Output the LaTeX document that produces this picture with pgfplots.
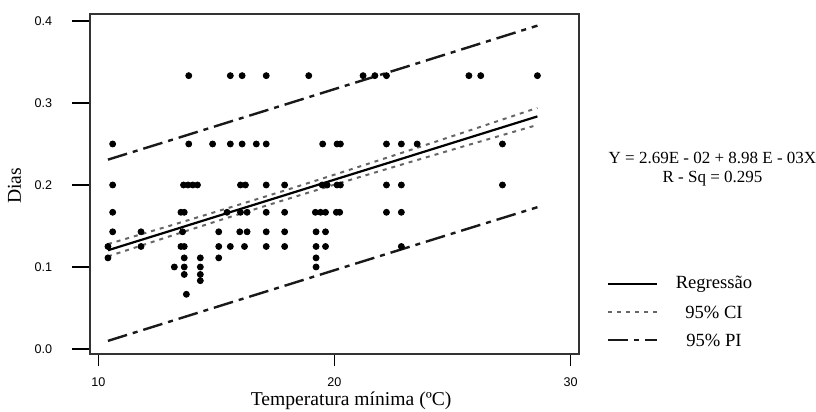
\documentclass[border=0pt]{standalone}
\usepackage{fontspec}
\setmainfont{Liberation Serif}
\newfontfamily\arialf{Liberation Sans}
\usepackage{pgfplots}
\usepackage{pgfplotstable}
\pgfplotsset{compat=1.18}

% observed points (temperatura minima, 1/dias)
\pgfplotstableread{
x y
13.83 0.3333
15.59 0.3333
16.09 0.3333
17.11 0.3333
18.91 0.3333
21.21 0.3333
21.71 0.3333
22.20 0.3333
25.69 0.3333
26.19 0.3333
28.59 0.3333
10.61 0.25
13.83 0.25
14.84 0.25
15.59 0.25
16.09 0.25
16.69 0.25
17.11 0.25
19.50 0.25
20.11 0.25
20.25 0.25
22.20 0.25
22.83 0.25
23.50 0.25
27.11 0.25
10.61 0.2
13.61 0.2
13.80 0.2
14.00 0.2
14.20 0.2
16.02 0.2
16.23 0.2
17.11 0.2
17.89 0.2
19.48 0.2
19.69 0.2
20.11 0.2
20.25 0.2
22.20 0.2
22.83 0.2
27.11 0.2
10.61 0.1667
13.50 0.1667
13.64 0.1667
15.45 0.1667
16.02 0.1667
16.30 0.1667
17.11 0.1667
17.89 0.1667
19.19 0.1667
19.41 0.1667
19.62 0.1667
20.08 0.1667
20.22 0.1667
22.20 0.1667
22.83 0.1667
10.61 0.1429
11.81 0.1429
13.57 0.1429
15.10 0.1429
15.99 0.1429
16.30 0.1429
17.11 0.1429
17.89 0.1429
19.22 0.1429
19.62 0.1429
10.41 0.125
11.81 0.125
13.50 0.125
13.64 0.125
15.10 0.125
15.59 0.125
16.19 0.125
17.11 0.125
17.89 0.125
19.22 0.125
19.62 0.125
22.83 0.125
10.41 0.1111
13.64 0.1111
14.32 0.1111
15.10 0.1111
19.22 0.1111
13.22 0.1
13.64 0.1
14.32 0.1
19.22 0.1
13.64 0.0909
14.32 0.0909
14.32 0.0833
13.73 0.0667
}\obs

% fitted line and bands
\pgfplotstableread{
x fit ciup cilo piup pilo
10.41 0.1204 0.1279 0.1129 0.2309 0.0099
13.00 0.1436 0.1500 0.1372 0.2540 0.0332
15.50 0.1661 0.1719 0.1603 0.2765 0.0557
18.00 0.1885 0.1942 0.1828 0.2989 0.0781
20.50 0.2110 0.2172 0.2048 0.3214 0.1006
23.00 0.2334 0.2406 0.2262 0.3438 0.1230
25.50 0.2559 0.2644 0.2474 0.3664 0.1454
28.59 0.2836 0.2940 0.2732 0.3943 0.1729
}\fit

\tikzset{
  regline/.style={black, line width=1.1pt},
  ciline/.style={black!60, line width=1pt, dash pattern=on 2pt off 2.5pt},
  piline/.style={black!90, line width=1.2pt, dash pattern=on 10pt off 3pt on 2.5pt off 3pt},
}

\begin{document}
\begin{tikzpicture}
\path[use as bounding box] (-45pt,-29pt) rectangle (363pt,177pt);
\begin{axis}[
  scale only axis,
  width=244.5pt, height=170pt,
  xmin=9.65, xmax=30.35, ymin=-0.0061, ymax=0.4085,
  xtick={10,20,30}, xticklabels={10,20,30},
  ytick={0,0.1,0.2,0.3,0.4}, yticklabels={0.0,0.1,0.2,0.3,0.4},
  xtick pos=bottom, ytick pos=left,
  tick align=outside,
  xtick style={/pgfplots/major tick length=6.25pt},
  ytick style={/pgfplots/major tick length=9pt},
  tick style={black, line width=0.7pt},
  axis line style={black!80, line width=0.9pt},
  ticklabel style={font=\arialf\fontsize{6.3}{7.4}\selectfont},
  yticklabel style={anchor=east, inner sep=0pt, xshift=-14.5pt},
  xticklabel style={anchor=north, inner sep=0pt, yshift=-7.2pt},
  xlabel={Temperatura mínima (ºC)},
  xlabel style={at={(axis description cs:0.534,0)}, anchor=base, yshift=-26pt,
    font=\fontsize{9.8}{11}\selectfont},
  ylabel={Dias},
  ylabel style={at={(axis description cs:-0.1544,0.494)}, anchor=center,
    font=\fontsize{9.8}{11}\selectfont},
  clip=false,
]
\addplot[only marks, mark=*, mark size=1.5pt, black] table[x=x, y=y] {\obs};
\addplot[regline] table[x=x, y=fit] {\fit};
\addplot[ciline] table[x=x, y=ciup] {\fit};
\addplot[ciline] table[x=x, y=cilo] {\fit};
\addplot[piline] table[x=x, y=piup] {\fit};
\addplot[piline] table[x=x, y=pilo] {\fit};
\end{axis}
% equation and legend at the right
\node[font=\fontsize{8.5}{10}\selectfont] at (311.25pt,98pt) {Y = 2.69E - 02 + 8.98 E - 03X};
\node[font=\fontsize{8.5}{10}\selectfont] at (311.25pt,87.5pt) {R - Sq = 0.295};
\draw[regline] (259pt,35pt) -- (283.5pt,35pt);
\draw[ciline] (259pt,21pt) -- (283.5pt,21pt);
\draw[piline] (259pt,7pt) -- (283.5pt,7pt);
\node[font=\fontsize{9.3}{10}\selectfont] at (312pt,35pt) {Regressão};
\node[font=\fontsize{9.3}{10}\selectfont] at (312pt,21pt) {95\% CI};
\node[font=\fontsize{9.3}{10}\selectfont] at (312pt,7pt) {95\% PI};
\end{tikzpicture}
\end{document}
